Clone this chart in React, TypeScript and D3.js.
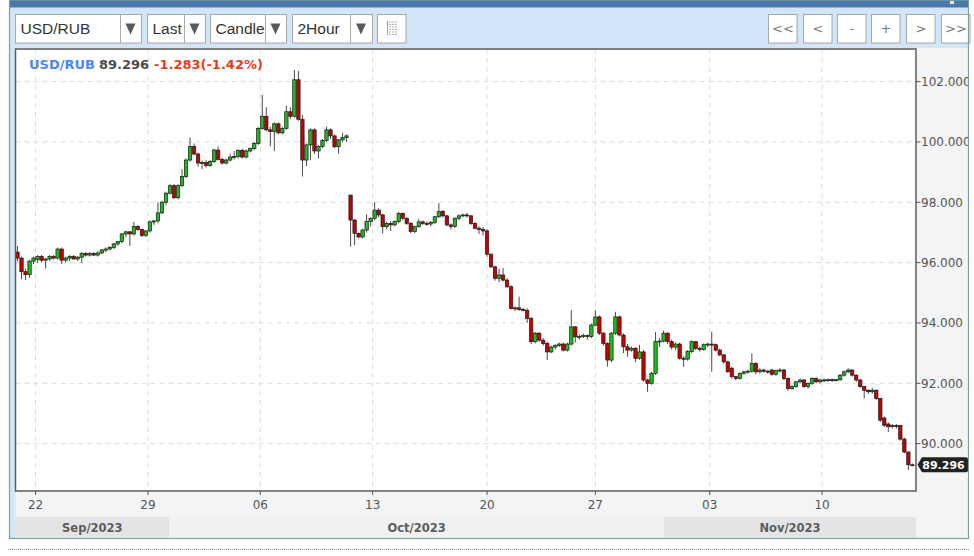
import React from "react";
import * as d3 from "d3";

// ---- data ----
const opens = [
  96.35, 96.15, 95.7, 95.6, 96.05, 96.1, 96.2, 96.08, 96.12, 96.2,
  96.15, 96.45, 96.08, 96.15, 96.2, 96.12, 96.18, 96.3, 96.25, 96.3,
  96.25, 96.32, 96.42, 96.45, 96.5, 96.62, 96.7, 96.95, 97.02, 96.95,
  97.2, 97.1, 96.9, 97.05, 97.35, 97.38, 97.65, 98.0, 98.3, 98.55,
  98.15, 98.55, 98.85, 99.4, 99.85, 99.6, 99.3, 99.32, 99.22, 99.35,
  99.73, 99.42, 99.3, 99.4, 99.5, 99.52, 99.72, 99.5, 99.7, 99.78,
  99.95, 100.45, 100.85, 100.4, 100.35, 100.6, 100.3, 100.45, 101.0, 100.85,
  102.06, 100.75, 99.4, 99.9, 100.4, 99.7, 99.85, 100.05, 100.4, 100.2,
  99.84, 100.07, 100.15, 98.24, 97.41, 96.97, 96.85, 97.08, 97.36, 97.47,
  97.74, 97.58, 97.19, 97.3, 97.25, 97.36, 97.63, 97.47, 97.3, 97.03,
  97.2, 97.35, 97.3, 97.28, 97.33, 97.52, 97.7, 97.55, 97.25, 97.2,
  97.47, 97.55, 97.58, 97.55, 97.3, 97.14, 97.1, 97.05, 96.28, 95.86,
  95.48, 95.59, 95.42, 95.2, 94.48, 94.5, 94.45, 94.42, 94.15, 93.38,
  93.66, 93.43, 93.32, 93.04, 93.2, 93.25, 93.3, 93.1, 93.3, 93.87,
  93.54, 93.55, 93.58, 93.55, 93.93, 94.2, 93.66, 93.32, 92.77, 93.66,
  94.2, 93.6, 93.21, 93.1, 93.16, 92.83, 93.04, 92.11, 92.0, 92.33,
  93.38, 93.4, 93.66, 93.38, 93.2, 93.3, 92.83, 92.8, 93.05, 93.38,
  93.16, 93.12, 93.28, 93.3, 93.28, 93.1, 92.94, 92.71, 92.5, 92.22,
  92.16, 92.33, 92.38, 92.4, 92.66, 92.38, 92.44, 92.4, 92.44, 92.3,
  92.42, 92.44, 92.16, 91.83, 91.89, 92.05, 92.11, 91.89, 92.0, 92.16,
  92.05, 92.11, 92.1, 92.12, 92.1, 92.12, 92.27, 92.38, 92.44, 92.27,
  92.11, 91.89, 91.77, 91.72, 91.77, 91.5, 90.85, 90.65, 90.56, 90.6,
  90.6, 90.15, 89.72, 89.3,
];
const highs = [
  96.55, 96.2, 95.8, 96.1, 96.2, 96.25, 96.25, 96.15, 96.25, 96.25,
  96.5, 96.5, 96.2, 96.25, 96.25, 96.22, 96.35, 96.35, 96.35, 96.35,
  96.38, 96.45, 96.5, 96.55, 96.65, 96.72, 96.98, 97.05, 97.05, 97.35,
  97.25, 97.12, 97.08, 97.4, 97.42, 98.0, 98.05, 98.35, 98.6, 98.6,
  98.6, 99.1, 99.45, 100.15, 99.95, 99.65, 99.38, 99.4, 99.4, 99.78,
  99.85, 99.48, 99.45, 99.6, 99.7, 99.75, 99.78, 99.75, 99.82, 100.0,
  100.5, 101.56, 101.15, 100.5, 100.65, 100.65, 100.5, 101.2, 101.15, 102.39,
  102.35, 100.9, 99.95, 100.45, 100.45, 99.9, 100.1, 100.5, 100.45, 100.25,
  100.1, 100.3, 100.25, 98.24, 97.45, 97.0, 97.12, 97.6, 97.5, 98.0,
  97.8, 97.62, 97.35, 97.38, 97.4, 97.68, 97.66, 97.5, 97.35, 97.22,
  97.45, 97.4, 97.36, 97.38, 97.55, 97.97, 97.75, 97.58, 97.3, 97.5,
  97.6, 97.62, 97.65, 97.58, 97.35, 97.2, 97.18, 97.1, 96.3, 95.9,
  95.8, 95.82, 95.48, 95.25, 94.55, 94.87, 94.5, 94.48, 94.2, 93.7,
  93.7, 93.5, 93.38, 93.25, 93.3, 93.35, 93.35, 93.35, 94.42, 93.9,
  93.62, 93.65, 93.62, 93.98, 94.42, 94.25, 93.7, 93.36, 93.7, 94.37,
  94.25, 93.65, 93.3, 93.22, 93.2, 93.27, 93.1, 92.15, 92.38, 93.7,
  93.5, 93.75, 93.7, 93.45, 93.35, 93.35, 92.9, 93.1, 93.42, 93.4,
  93.22, 93.32, 93.35, 93.71, 93.32, 93.15, 92.98, 92.75, 92.55, 92.25,
  92.36, 92.42, 92.45, 92.99, 92.7, 92.5, 92.48, 92.45, 92.48, 92.45,
  92.5, 92.48, 92.2, 91.95, 92.08, 92.15, 92.14, 92.02, 92.2, 92.2,
  92.15, 92.16, 92.15, 92.16, 92.15, 92.3, 92.42, 92.5, 92.46, 92.3,
  92.14, 91.92, 91.8, 91.85, 91.8, 91.52, 90.9, 90.7, 90.65, 90.65,
  90.62, 90.2, 89.75, 89.34,
];
const lows = [
  96.05, 95.45, 95.42, 95.5, 95.95, 96.0, 96.0, 95.8, 96.05, 96.1,
  96.1, 95.95, 96.0, 96.05, 96.1, 96.05, 95.98, 96.2, 96.2, 96.22,
  96.2, 96.28, 96.35, 96.4, 96.45, 96.55, 96.65, 96.85, 96.55, 96.9,
  97.05, 96.85, 96.85, 97.0, 97.25, 97.3, 97.6, 97.9, 98.25, 98.1,
  98.1, 98.5, 98.8, 99.35, 99.55, 99.18, 99.1, 99.15, 99.18, 99.3,
  99.38, 99.25, 99.25, 99.35, 99.42, 99.45, 99.45, 99.45, 99.65, 99.72,
  99.9, 100.4, 100.35, 99.85, 99.7, 100.25, 100.25, 100.4, 100.75, 100.8,
  100.7, 98.85, 99.2, 99.4, 99.6, 99.45, 99.8, 100.0, 100.1, 99.8,
  99.62, 100.0, 100.0, 96.53, 96.58, 96.8, 96.8, 97.0, 97.2, 97.4,
  97.5, 96.97, 97.1, 97.05, 97.2, 97.3, 97.4, 97.25, 96.97, 96.98,
  97.15, 97.25, 97.22, 97.2, 97.28, 97.48, 97.5, 97.2, 97.1, 97.15,
  97.4, 97.5, 97.5, 97.25, 97.1, 96.95, 96.9, 96.2, 95.82, 95.4,
  95.35, 95.38, 95.15, 94.45, 94.4, 94.4, 94.38, 94.0, 93.3, 93.32,
  93.38, 93.25, 92.77, 93.0, 93.12, 93.2, 93.05, 93.05, 93.25, 93.35,
  93.45, 93.5, 93.45, 93.5, 93.88, 93.6, 93.25, 92.55, 92.7, 93.6,
  93.55, 93.0, 92.88, 93.05, 92.7, 92.78, 92.05, 91.72, 91.95, 92.28,
  93.2, 93.35, 93.3, 93.12, 93.1, 92.78, 92.55, 92.75, 93.0, 93.1,
  93.05, 93.08, 93.2, 92.38, 93.05, 92.9, 92.65, 92.35, 92.15, 92.1,
  92.12, 92.28, 92.32, 92.35, 92.3, 92.32, 92.35, 92.32, 92.25, 92.25,
  92.35, 92.1, 91.75, 91.78, 91.85, 92.0, 91.85, 91.82, 91.95, 92.0,
  92.0, 92.05, 92.05, 92.05, 92.06, 92.08, 92.22, 92.33, 92.22, 92.05,
  91.85, 91.5, 91.65, 91.65, 91.45, 90.72, 90.55, 90.39, 90.5, 90.5,
  90.1, 89.68, 89.12, 89.25,
];
const closes = [
  96.15, 95.7, 95.6, 96.05, 96.15, 96.2, 96.08, 96.12, 96.2, 96.15,
  96.45, 96.08, 96.15, 96.2, 96.12, 96.18, 96.3, 96.25, 96.3, 96.25,
  96.32, 96.42, 96.45, 96.5, 96.62, 96.7, 96.95, 97.02, 96.95, 97.2,
  97.1, 96.9, 97.05, 97.35, 97.38, 97.65, 98.0, 98.3, 98.55, 98.15,
  98.55, 98.85, 99.4, 99.85, 99.6, 99.3, 99.32, 99.22, 99.35, 99.73,
  99.42, 99.3, 99.4, 99.5, 99.52, 99.72, 99.5, 99.7, 99.78, 99.95,
  100.45, 100.85, 100.4, 100.35, 100.6, 100.3, 100.45, 101.0, 100.85, 102.06,
  100.75, 99.4, 99.9, 100.4, 99.7, 99.85, 100.05, 100.4, 100.2, 99.84,
  100.07, 100.15, 100.2, 97.41, 96.97, 96.85, 97.08, 97.36, 97.47, 97.74,
  97.58, 97.19, 97.3, 97.25, 97.36, 97.63, 97.47, 97.3, 97.03, 97.2,
  97.35, 97.3, 97.28, 97.33, 97.52, 97.7, 97.55, 97.25, 97.2, 97.47,
  97.55, 97.58, 97.55, 97.3, 97.14, 97.1, 97.05, 96.28, 95.86, 95.48,
  95.59, 95.42, 95.2, 94.48, 94.5, 94.45, 94.42, 94.15, 93.38, 93.66,
  93.43, 93.32, 93.04, 93.2, 93.25, 93.3, 93.1, 93.3, 93.87, 93.54,
  93.55, 93.58, 93.55, 93.93, 94.2, 93.66, 93.32, 92.77, 93.66, 94.2,
  93.6, 93.21, 93.1, 93.16, 92.83, 93.04, 92.11, 92.0, 92.33, 93.38,
  93.4, 93.66, 93.38, 93.2, 93.3, 92.83, 92.8, 93.05, 93.38, 93.16,
  93.12, 93.28, 93.3, 93.28, 93.1, 92.94, 92.71, 92.38, 92.22, 92.16,
  92.33, 92.38, 92.4, 92.66, 92.38, 92.44, 92.4, 92.38, 92.3, 92.42,
  92.44, 92.16, 91.83, 91.89, 92.05, 92.11, 91.89, 92.0, 92.16, 92.05,
  92.11, 92.1, 92.12, 92.1, 92.12, 92.27, 92.38, 92.44, 92.27, 92.11,
  91.89, 91.77, 91.72, 91.77, 91.5, 90.78, 90.61, 90.56, 90.6, 90.58,
  90.15, 89.72, 89.3, 89.296,
];

const dayTickLabels = ["22", "29", "06", "13", "20", "27", "03", "10"];
const dayTickIndex = [5, 33, 61, 89, 117.5, 144.5, 173, 201];
const monthLabels = ["Sep/2023", "Oct/2023", "Nov/2023"];
const monthBounds = [0, 38.3, 161.6, 224.4];
const priceTicks = [90, 92, 94, 96, 98, 100, 102];
const symbol = "USD/RUB";
const lastPrice = 89.296;
const changeAbs = -1.283;
const changePct = -1.42;
const dropdownLabels = ["USD/RUB", "Last", "Candle", "2Hour"];
const navLabels = ["<<", "<", "-", "+", ">", ">>"];

// ---- layout ----
const W = 974;
const H = 556;
const PL = 15.5, PR = 916, PT = 49, PB = 491;
const AXIS_FONT = "'DejaVu Sans', sans-serif";
const UI_FONT = "'Liberation Sans', Arial, sans-serif";

const locale = d3.formatLocale({ decimal: ".", thousands: ",", grouping: [3], currency: ["", ""], minus: "-" });

export default function App() {
  const x = d3.scaleLinear().domain([0, 224.4]).range([PL, PR]);
  const y = d3.scaleLinear().domain([88.43, 103.08]).range([PB, PT]);
  const step = x(1) - x(0);
  const bodyW = step * 0.84;

  const dropBoxes = [
    { x0: 15, x1: 141, div: 120 },
    { x0: 147, x1: 205, div: 184 },
    { x0: 210, x1: 286, div: 265 },
    { x0: 292, x1: 372, div: 350 },
  ];
  const navX = [768, 803, 837, 871, 906, 941];

  const fmt = locale.format(".3f");
  const fmt2 = locale.format(".2f");
  const lastY = y(lastPrice);

  return (
    <div style={{ position: "fixed", left: 0, top: 0 }}>
      <svg width={W} height={H} xmlns="http://www.w3.org/2000/svg" style={{ display: "block", background: "#fff" }}>
        <defs>
          <clipPath id="plotClip">
            <rect x={PL} y={PT} width={PR - PL} height={PB - PT} />
          </clipPath>
          <clipPath id="frameClip">
            <rect x={9} y={0} width={959.5} height={539} />
          </clipPath>
          {dropBoxes.map((b, i) => (
            <clipPath id={`ddClip${i}`} key={i}>
              <rect x={b.x0 + 1} y={14} width={b.div - b.x0 - 1} height={29} />
            </clipPath>
          ))}
        </defs>

        {/* outer frame */}
        <rect x={9.5} y={0} width={959} height={538.5} fill="#d3e5f8" />
        <rect x={9.5} y={0} width={959} height={7.5} fill="#4a78a9" />
        <rect x={950} y={1} width={4} height={3} fill="#e8eef6" />

        {/* axis areas */}
        <rect x={PL} y={PB} width={968.5 - PL} height={538.5 - PB} fill="#f3f4f6" />
        <rect x={PR} y={PT - 1} width={968.5 - PR} height={PB - PT + 1} fill="#f3f4f6" />

        {/* month bands */}
        {monthLabels.map((m, i) => {
          const a = x(monthBounds[i]);
          const b = x(monthBounds[i + 1]);
          return (
            <g key={m}>
              <rect x={a} y={517} width={b - a} height={20.5} fill={i % 2 === 0 ? "#e4e4e6" : "#f0f1f3"} />
              <text x={(a + b) / 2} y={532} textAnchor="middle" fontFamily={AXIS_FONT} fontWeight="bold" fontSize={11.5} fill="#5c5c5c">
                {m}
              </text>
            </g>
          );
        })}

        {/* toolbar dropdowns */}
        {dropBoxes.map((b, i) => (
          <g key={i}>
            <rect x={b.x0 + 0.5} y={14.5} width={b.x1 - b.x0} height={28.5} fill="#fff" stroke="#a8a8a8" />
            <line x1={b.div + 0.5} x2={b.div + 0.5} y1={14.5} y2={43} stroke="#a8a8a8" />
            <text x={b.x0 + 5.5} y={34.3} fontFamily={UI_FONT} fontSize={15.5} fill="#333" clipPath={`url(#ddClip${i})`}>
              {dropdownLabels[i]}
            </text>
            <path
              d={`M${(b.div + b.x1) / 2 - 5},23.5 L${(b.div + b.x1) / 2 + 5},23.5 L${(b.div + b.x1) / 2},34.5 Z`}
              fill="#5a5a5a"
            />
          </g>
        ))}
        {/* table icon button */}
        <rect x={377.5} y={14.5} width={28.5} height={28.5} fill="#fff" stroke="#a8a8a8" />
        <line x1={387.5} x2={387.5} y1={21} y2={35} stroke="#9a9a9a" />
        {[22, 24.5, 27, 29.5, 32, 34.5].map((yy) => (
          <line key={yy} x1={389} x2={398} y1={yy} y2={yy} stroke="#b0b0b0" strokeDasharray="2,1" />
        ))}

        {/* nav buttons */}
        {navLabels.map((lab, i) => (
          <g key={i}>
            <rect x={navX[i] + 0.5} y={14.5} width={28.5} height={28.5} fill="#fff" stroke="#a8a8a8" />
            <text x={navX[i] + 15} y={33} textAnchor="middle" fontFamily={AXIS_FONT} fontSize={13} fill="#7a7a7a">
              {lab}
            </text>
          </g>
        ))}

        {/* plot background */}
        <rect x={PL} y={PT} width={PR - PL} height={PB - PT} fill="#fff" />

        {/* grid */}
        {priceTicks.map((p) => (
          <line key={p} x1={PL} x2={PR} y1={y(p)} y2={y(p)} stroke="#dcdcdc" strokeDasharray="5,4" />
        ))}
        {dayTickIndex.map((d, i) => (
          <line key={i} x1={x(d)} x2={x(d)} y1={PT} y2={PB} stroke="#dcdcdc" strokeDasharray="5,4" />
        ))}

        {/* candles */}
        <g clipPath="url(#plotClip)">
          {closes.map((c, i) => {
            const o = opens[i];
            const cx = x(i + 0.5);
            const up = c >= o;
            const top = y(Math.max(o, c));
            const bot = y(Math.min(o, c));
            const h = Math.max(1, bot - top);
            return (
              <g key={i}>
                <line x1={cx} x2={cx} y1={y(highs[i])} y2={y(lows[i])} stroke="#4a4a4a" strokeWidth={1} />
                <rect
                  x={cx - bodyW / 2}
                  y={top}
                  width={bodyW}
                  height={h}
                  fill={up ? "#1fb81f" : "#c40000"}
                  stroke="#1c1c1c"
                  strokeWidth={0.7}
                />
              </g>
            );
          })}
        </g>

        {/* plot border */}
        <rect x={PL} y={PT} width={PR - PL} height={PB - PT} fill="none" stroke="#5c5c5c" strokeWidth={1.5} />

        {/* legend */}
        <text x={29} y={68.5} fontFamily={AXIS_FONT} fontWeight="bold" fontSize={13}>
          <tspan fill="#4f86ec">{symbol}</tspan>
          <tspan x={99} fill="#4d4d4d">{fmt(lastPrice)}</tspan>
          <tspan x={154} fill="#e2401c">
            {`${fmt(changeAbs)}(${fmt2(changePct)}%)`}
          </tspan>
        </text>

        {/* right price axis */}
        <g clipPath="url(#frameClip)">
          {priceTicks.map((p) => (
            <g key={p}>
              <line x1={PR} x2={PR + 4.5} y1={y(p)} y2={y(p)} stroke="#555" />
              <text x={921} y={y(p) + 4.5} fontFamily={AXIS_FONT} fontSize={12} fill="#555">
                {fmt(p)}
              </text>
            </g>
          ))}
          {/* last price tag */}
          <path
            d={`M${PR + 1.5},${lastY} L${PR + 6},${lastY - 7.5} L${966},${lastY - 7.5} Q968,${lastY - 7.5} 968,${lastY - 5.5} L968,${lastY + 5.5} Q968,${lastY + 7.5} 966,${lastY + 7.5} L${PR + 6},${lastY + 7.5} Z`}
            fill="#222"
          />
          <text x={943.5} y={lastY + 4.3} textAnchor="middle" fontFamily={AXIS_FONT} fontWeight="bold" fontSize={11} fill="#fff">
            {fmt(lastPrice)}
          </text>
        </g>

        {/* bottom day axis */}
        {dayTickIndex.map((d, i) => (
          <g key={i}>
            <line x1={x(d)} x2={x(d)} y1={PB} y2={PB + 4} stroke="#555" />
            <text x={x(d)} y={508.5} textAnchor="middle" fontFamily={AXIS_FONT} fontSize={12} fill="#555">
              {dayTickLabels[i]}
            </text>
          </g>
        ))}

        {/* frame border */}
        <rect x={9.5} y={0} width={959} height={538.5} fill="none" stroke="#7aa595" strokeWidth={1.2} />

        {/* dotted separator */}
        <line x1={8} x2={969} y1={549.5} y2={549.5} stroke="#9a9a9a" strokeDasharray="1,1" />
      </svg>
    </div>
  );
}
